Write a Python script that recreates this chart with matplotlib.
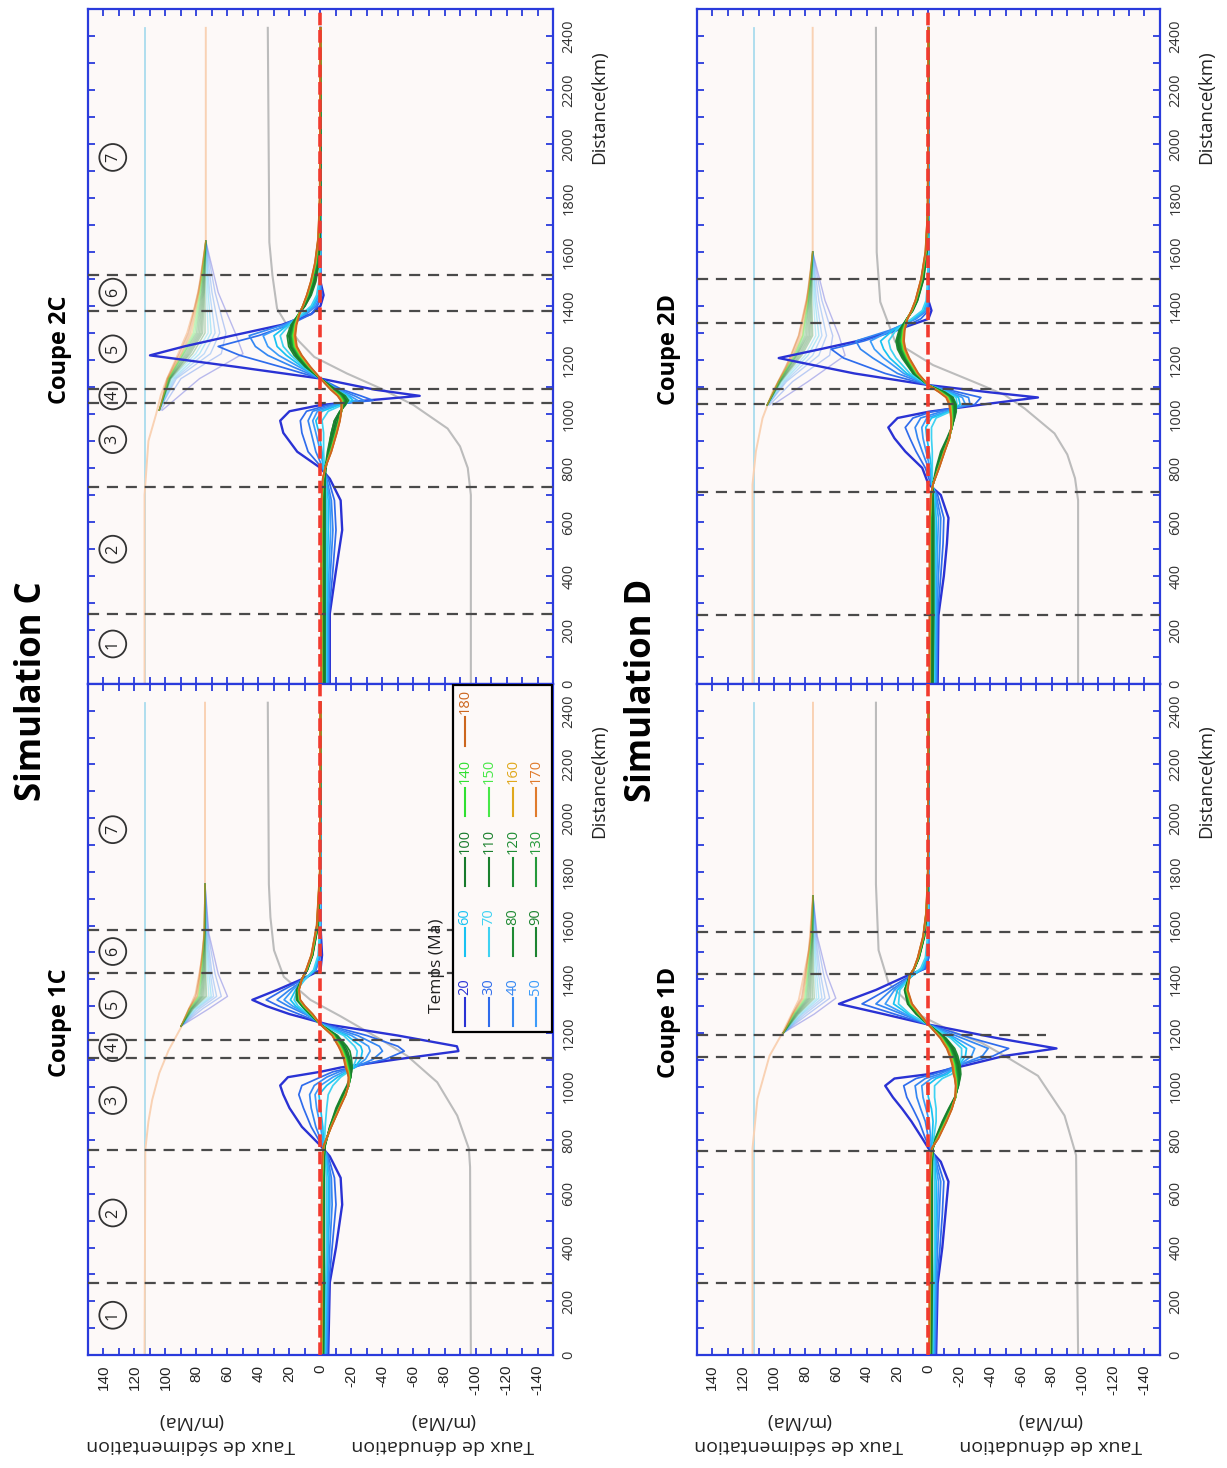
import matplotlib.pyplot as plt
from matplotlib.patches import Rectangle

plt.rcParams.update({
    "font.family": ["Open Sans", "DejaVu Sans"],
    "axes.linewidth": 1.6,
})

BLUE = '#2a3bdc'
BG = '#fdf9f8'

# time steps (Ma) and their colours
times = [20, 30, 40, 50, 60, 70, 80, 90, 100, 110, 120, 130, 140, 150, 160, 170, 180]
time_colors = ['#2a32d4', '#2f6cec', '#3487f2', '#3c9cfa', '#18c2f2', '#3fd2f2',
               '#1f8a33', '#1c8330', '#177a2b', '#1a802d', '#1e8c33', '#25993a',
               '#30e030', '#48e848', '#e0a81c', '#e07b2c', '#cc661e']

rate_ticks = [140, 120, 100, 80, 60, 40, 20, 0, -20, -40, -60, -80, -100, -120, -140]
dist_ticks = [0, 200, 400, 600, 800, 1000, 1200, 1400, 1600, 1800, 2000, 2200, 2400]

blue_d = [0, 2430]
blue_r = [113, 113]

# ---------------- Coupe 2C ----------------
dist_2C = [0, 260, 420, 570, 680, 760, 800, 860, 930, 975, 1010, 1033, 1050, 1067, 1090,
           1131, 1175, 1217, 1250, 1290, 1330, 1370, 1400, 1440, 1490, 1560, 1650, 1800, 2430]
rate_2C = [
    [-6, -6, -10, -14, -13, -6, 0, 15, 24, 26, 20, 0, -30, -64, -35, 0, 55, 110, 88, 57, 25, 6, 0, -2, 0, 0, 0, 0, 0],
    [-5.5, -5.5, -8, -10, -9, -5, -1, 8, 12, 13, 9, -5, -34, -26, -14, 0, 26, 52, 66, 40, 20, 6, 2, -1, 0, 0, 0, 0, 0],
    [-5, -5, -6.5, -8, -7, -4, -1.5, 3, 6, 8, 5, -8, -28, -22, -12, 0, 18, 34, 42, 46, 24, 9, 3, 0, 0, 0, 0, 0, 0],
    [-4.5, -4.5, -5.5, -6.5, -6, -3.5, -2, 0, 3, 5, 2, -10, -24, -19, -11, 0, 14, 27, 34, 37, 22, 10, 4, 1, 0, 0, 0, 0, 0],
    [-4, -4, -4.5, -5, -5, -3, -2, -1, 1, 3, -1, -12, -21, -18, -10, 0, 12, 22, 28, 30, 21, 11, 5, 1.5, 0.5, 0, 0, 0, 0],
    [-3.5, -3.5, -4, -4, -4, -3, -2.5, -2, -2, -1, -5, -14, -19, -17, -10, 0, 11, 19, 24, 26, 20, 12, 6, 2.5, 1, 0.3, 0, 0, 0],
    [-3, -3, -3, -3, -3, -3, -3, -4.5, -7, -9, -12.5, -16, -18, -16, -10, 0, 10, 17, 20.5, 21.5, 19, 14, 10, 6, 3, 1, 0.3, 0, 0],
    [-2.5, -2.5, -2.5, -2.5, -2.5, -3, -3.5, -5, -7, -9, -12.5, -16, -17, -15, -9.5, 0, 9.5, 16, 19.5, 20.5, 18.5, 14, 10, 6.5, 3.5, 1.2, 0.4, 0, 0],
    [-2, -2, -2, -2, -2, -2.5, -3.5, -5.5, -8, -10, -13, -15.5, -16.5, -14.5, -9, 0, 9, 15.5, 19, 20, 18, 14, 10.5, 7, 4, 1.5, 0.5, 0.1, 0],
    [-1.5, -1.5, -1.5, -1.5, -1.5, -2, -3, -5.5, -8.5, -11, -13.5, -15, -16, -14, -8.5, 0, 8.5, 15, 18.5, 19.5, 17.5, 14, 10.5, 7.5, 4.5, 2, 0.7, 0.1, 0],
    [-1.2, -1.2, -1.2, -1.2, -1.3, -2, -3, -6, -9, -11.5, -13.5, -14.5, -15.5, -13.5, -8, 0, 8, 14.5, 18, 19, 17, 14, 11, 8, 5, 2.3, 0.9, 0.2, 0],
    [-1, -1, -1, -1, -1.2, -2, -3, -6, -9.5, -12, -13.5, -14.5, -15, -13, -7.8, 0, 7.8, 14, 17.5, 18.5, 17, 14, 11, 8, 5.3, 2.6, 1, 0.3, 0],
    [-0.8, -0.8, -0.8, -0.8, -1, -1.8, -3, -6.5, -10, -12, -13.5, -14, -14.5, -12.5, -7.5, 0, 7.5, 13.5, 17, 18, 16.5, 14, 11.3, 8.3, 5.6, 2.9, 1.2, 0.3, 0],
    [-0.7, -0.7, -0.7, -0.7, -0.9, -1.7, -3, -6.5, -10, -12.2, -13.5, -14, -14, -12, -7.2, 0, 7.2, 13, 16.5, 17.5, 16.3, 14, 11.3, 8.5, 5.8, 3.1, 1.3, 0.4, 0],
    [-0.6, -0.6, -0.6, -0.6, -0.8, -1.6, -3, -6.8, -10.3, -12.3, -13.5, -13.8, -13.6, -11.6, -7, 0, 7, 12.7, 16, 17, 16, 13.8, 11.4, 8.7, 6, 3.3, 1.4, 0.4, 0],
    [-0.5, -0.5, -0.5, -0.5, -0.7, -1.5, -3, -7, -10.5, -12.5, -13.5, -13.6, -13.3, -11.2, -6.8, 0, 6.8, 12.3, 15.6, 16.6, 15.7, 13.6, 11.4, 8.8, 6.2, 3.5, 1.5, 0.5, 0],
    [-0.5, -0.5, -0.5, -0.5, -0.6, -1.4, -3, -7, -10.6, -12.6, -13.4, -13.4, -13, -11, -6.5, 0, 6.5, 12, 15.2, 16.2, 15.4, 13.5, 11.4, 8.9, 6.3, 3.6, 1.6, 0.5, 0],
]
fan_d_2C = [1014, 1131, 1223, 1300, 1450, 1640]
fan_2C = [
    [102, 78, 50, 55, 66, 74], [103, 90, 64, 61, 68, 74], [104, 93, 71, 65, 70, 74],
    [104, 94, 75, 68, 71.5, 74], [104, 95, 78, 70.5, 72.5, 74], [104, 96, 80.5, 72.5, 73.5, 74],
    [104, 96.5, 82.5, 74.5, 74.5, 74], [104, 97, 84, 76, 75, 74], [104, 97, 85, 77, 75.5, 74],
    [104, 97.5, 86, 78, 76, 74], [104, 97.5, 87, 79, 76.5, 74], [104, 98, 88, 80, 77, 74],
    [104, 98, 88.5, 81, 77.5, 74], [104, 98, 89, 82, 78, 74], [104, 98.5, 89.5, 83, 78.3, 74],
    [104, 98.5, 90, 84, 78.6, 74], [104, 99, 91, 85, 79, 74],
]
peach_d_2C = [0, 700, 900, 1000, 1070, 1130, 1220, 1300, 1400, 1500, 1640, 2430]
peach_2C = [113.5, 113.5, 111, 106, 103, 99, 92, 86, 81, 77, 74, 74]
gray_d_2C = [0, 700, 800, 880, 946, 1033, 1094, 1150, 1211, 1270, 1328, 1390, 1513, 1636, 2430]
gray_2C = [-97, -97, -95, -90, -82, -60, -39, -17, 4, 14, 21.5, 28, 31, 33, 34]
bounds_2C = [260, 729, 1040, 1094, 1381, 1513]
ends_2C = [1, 1, 1, 1, 1, 1]
zones_2C = [148, 499, 905, 1067, 1241, 1451, 1950]

# ---------------- Coupe 1C ----------------
dist_1C = [0, 270, 400, 560, 660, 740, 780, 850, 920, 970, 1004, 1035, 1055, 1071, 1102,
           1132, 1150, 1190, 1231, 1270, 1300, 1323, 1360, 1400, 1434, 1490, 1600, 1800, 2430]
rate_1C = [
    [-5, -6, -10, -14, -13, -6, 0, 12, 20, 24, 26, 21, 0, -13, -50, -89, -88, -50, -5, 20, 35, 44, 28, 12, 0, -1, 0, 0, 0],
    [-4.5, -5.5, -7.5, -10, -9, -5, -1, 6, 11, 14, 12, 0, -8, -20, -42, -54, -50, -30, -3, 14, 27, 35, 24, 11, 3, 0, 0, 0, 0],
    [-4, -5, -6, -7.5, -7, -4.5, -1.5, 3, 6, 7, 4, -4, -12, -22, -34, -40, -38, -24, -2, 10, 21, 28, 20, 10, 3, 0.5, 0, 0, 0],
    [-3.5, -4.5, -5, -6, -6, -4, -2, 0, 2.5, 3.5, 0, -8, -15, -22, -29, -32, -31, -20, -1, 9, 18, 23.5, 18, 10, 3.5, 1, 0, 0, 0],
    [-3, -4, -4.5, -5, -5, -3.5, -2, -1.5, 0, 1, -4, -11, -17, -22, -26, -27, -26, -17, -0.5, 8, 16, 19.4, 16, 10, 4, 1.2, 0.3, 0, 0],
    [-2.5, -3.5, -4, -4, -4, -3, -2.5, -3, -4, -5, -8, -13, -18, -21, -23, -23.7, -22, -15, -0.5, 7.5, 14.5, 17, 15, 10, 4.5, 1.5, 0.4, 0, 0],
    [-2, -2.5, -2.5, -2.5, -2.5, -2.5, -3, -6, -10, -14, -17, -19, -20, -20.5, -20, -19, -17, -11, 0, 7, 12, 15.5, 15.5, 12, 8.5, 5, 1.5, 0.2, 0],
    [-1.8, -2.2, -2.2, -2.2, -2.2, -2.4, -3, -6, -10.5, -14.5, -17.5, -19.5, -20, -20, -19, -17.5, -16, -10.5, 0, 6.8, 11.8, 14.8, 15, 12, 8.5, 5.1, 1.6, 0.2, 0],
    [-1.6, -2, -2, -2, -2, -2.2, -2.8, -6.2, -11, -15, -18, -19.5, -19.5, -19.5, -18.3, -16.5, -15, -10, 0, 6.6, 11.6, 14.5, 14.8, 12, 8.6, 5.2, 1.7, 0.3, 0],
    [-1.4, -1.8, -1.8, -1.8, -1.8, -2, -2.6, -6.4, -11.3, -15.3, -18.2, -19.4, -19.2, -19, -17.8, -16, -14.5, -9.6, 0, 6.4, 11.4, 14.3, 14.6, 12, 8.7, 5.3, 1.8, 0.3, 0],
    [-1.2, -1.5, -1.5, -1.5, -1.6, -1.9, -2.5, -6.5, -11.6, -15.6, -18.3, -19.2, -19, -18.6, -17.4, -15.5, -14, -9.2, 0, 6.2, 11.2, 14.1, 14.5, 12, 8.8, 5.4, 1.9, 0.3, 0],
    [-1, -1.3, -1.3, -1.3, -1.4, -1.8, -2.4, -6.6, -11.8, -15.8, -18.3, -19, -18.7, -18.2, -17, -15, -13.5, -8.8, 0, 6, 11, 13.9, 14.3, 12, 8.9, 5.5, 2, 0.3, 0],
    [-0.8, -1.1, -1.1, -1.1, -1.2, -1.7, -2.3, -6.7, -12, -16, -18.3, -18.8, -18.4, -17.8, -16.6, -14.6, -13, -8.5, 0, 5.8, 10.8, 13.7, 14.2, 12, 9, 5.6, 2.1, 0.3, 0],
    [-0.7, -1, -1, -1, -1.1, -1.6, -2.2, -6.8, -12.1, -16.1, -18.2, -18.6, -18.1, -17.4, -16.2, -14.2, -12.6, -8.2, 0, 5.6, 10.6, 13.5, 14.1, 12, 9.1, 5.7, 2.2, 0.4, 0],
    [-0.6, -0.9, -0.9, -0.9, -1, -1.5, -2.1, -6.9, -12.2, -16.2, -18.1, -18.4, -17.8, -17, -15.8, -13.8, -12.2, -8, 0, 5.4, 10.4, 13.3, 14, 12, 9.2, 5.8, 2.3, 0.4, 0],
    [-0.5, -0.8, -0.8, -0.8, -0.9, -1.4, -2, -7, -12.3, -16.3, -18, -18.2, -17.5, -16.6, -15.4, -13.4, -11.8, -7.8, 0, 5.2, 10.2, 13.1, 13.9, 12, 9.3, 5.9, 2.4, 0.4, 0],
    [-0.5, -0.7, -0.7, -0.7, -0.8, -1.3, -2, -7, -12.4, -16.4, -17.9, -18, -17.2, -16.2, -15, -13, -11.5, -7.5, 0, 5, 10, 13, 13.8, 12, 9.4, 6, 2.5, 0.5, 0],
]
fan_d_1C = [1225, 1290, 1336, 1420, 1570, 1754]
fan_1C = [
    [90, 72, 60, 66, 72, 74.5], [90, 76, 64, 68, 72.5, 74.5], [90, 78, 67, 70, 73, 74.5],
    [90, 79.5, 69, 71, 73.5, 74.5], [90, 80.5, 70.5, 72, 73.8, 74.5], [90, 81.5, 72, 73, 74, 74.5],
    [90, 82, 73.5, 74, 74.2, 74.5], [90, 82.5, 74.5, 74.5, 74.4, 74.5], [90, 83, 75.5, 75, 74.6, 74.5],
    [90, 83.3, 76.3, 75.5, 74.7, 74.5], [90, 83.6, 77, 76, 74.8, 74.5], [90, 84, 77.7, 76.4, 74.9, 74.5],
    [90, 84.3, 78.3, 76.8, 75, 74.5], [90, 84.5, 78.8, 77.1, 75, 74.5], [90, 84.7, 79.3, 77.4, 75, 74.5],
    [90, 84.9, 79.7, 77.7, 75, 74.5], [90, 85, 80.5, 78, 75, 74.5],
]
peach_d_1C = [0, 765, 870, 950, 1050, 1135, 1220, 1345, 1505, 1700, 2430]
peach_1C = [113.5, 113, 111, 108.6, 104, 98, 90, 80.6, 75.5, 74.5, 74.5]
gray_d_1C = [0, 700, 769, 892, 1016, 1114, 1176, 1262, 1323, 1409, 1508, 1631, 1754, 2430]
gray_1C = [-97, -96.5, -95.7, -88.2, -75.3, -56, -38.7, -12.9, 6.5, 23.7, 30, 32.3, 33.3, 34]
bounds_1C = [268, 765, 1108, 1175, 1424, 1582]
ends_1C = [1, 1, 1, 0.735, 1, 1]
zones_1C = [148, 529, 948, 1145, 1305, 1503, 1957]

# ---------------- Coupe 2D ----------------
dist_2D = [0, 254, 400, 520, 615, 700, 740, 800, 861, 910, 950, 985, 1008, 1035, 1061,
           1080, 1107, 1150, 1207, 1240, 1270, 1310, 1352, 1383, 1420, 1500, 1600, 1750, 2430]
rate_2D = [
    [-6, -6.5, -10, -12, -13, -8, 0, 4, 15, 22, 26, 20, 0, -35, -71, -40, 0, 48, 97, 70, 46, 21, 0, -2, 0, 0, 0, 0, 0],
    [-5.5, -6, -8, -9.5, -10, -6, -1.5, 2, 8, 12, 15, 10, -2, -30, -34, -20, 0, 28, 55, 63, 42, 20, 5, 0, 0, 0, 0, 0, 0],
    [-5, -5.5, -6.5, -7.5, -8, -5, -2, 0, 4, 7, 8.6, 5, -8, -27, -26, -16, 0, 20, 36, 44, 47, 25, 8, 1, 0, 0, 0, 0, 0],
    [-4.5, -5, -5.5, -6, -6.5, -4.5, -2.5, -1, 1.5, 3.5, 4.3, 1, -11, -24, -22, -14, 0, 16, 29, 35, 37.6, 24, 9, 2, 0.5, 0, 0, 0, 0],
    [-4, -4.5, -4.5, -5, -5, -4, -2.5, -2, -0.5, 1, 1.7, -2, -13, -20.6, -19.5, -13, 0, 14, 25, 29, 31, 23, 10, 3, 1, 0.2, 0, 0, 0],
    [-3.5, -4, -4, -4, -4, -3.5, -2.5, -2.5, -2.5, -2, -2, -5, -14, -18.5, -18, -12, 0, 12, 21, 24.5, 25.8, 21, 11, 4, 1.5, 0.4, 0, 0, 0],
    [-3, -3.5, -3.5, -3.5, -3.5, -3, -3, -5, -8, -12, -15, -17, -18, -18, -16, -11, 0, 10, 17, 20, 21, 19, 14, 10, 7, 3, 1, 0.2, 0],
    [-2.5, -3, -3, -3, -3, -2.8, -3, -5.5, -8.5, -12.5, -15.2, -16.8, -17.5, -17.5, -15.5, -10.5, 0, 9.6, 16.4, 19.4, 20.4, 18.6, 14, 10.2, 7.2, 3.2, 1.1, 0.2, 0],
    [-2, -2.5, -2.5, -2.5, -2.5, -2.6, -3, -5.8, -9, -12.8, -15.3, -16.6, -17, -17, -15, -10, 0, 9.2, 15.8, 18.8, 19.8, 18.2, 14, 10.3, 7.4, 3.4, 1.2, 0.3, 0],
    [-1.7, -2, -2, -2, -2.1, -2.4, -3, -6, -9.3, -13, -15.3, -16.3, -16.6, -16.5, -14.5, -9.6, 0, 8.8, 15.3, 18.2, 19.2, 17.8, 14, 10.4, 7.6, 3.6, 1.3, 0.3, 0],
    [-1.4, -1.7, -1.7, -1.7, -1.8, -2.2, -3, -6.2, -9.6, -13.2, -15.3, -16, -16.2, -16, -14, -9.2, 0, 8.4, 14.8, 17.6, 18.6, 17.4, 14, 10.5, 7.8, 3.8, 1.4, 0.3, 0],
    [-1.2, -1.4, -1.4, -1.4, -1.5, -2, -3, -6.4, -9.9, -13.4, -15.2, -15.8, -15.8, -15.5, -13.5, -8.8, 0, 8, 14.3, 17, 18, 17, 14, 10.6, 8, 4, 1.5, 0.4, 0],
    [-1, -1.2, -1.2, -1.2, -1.3, -1.9, -3, -6.6, -10.1, -13.5, -15.1, -15.5, -15.4, -15, -13, -8.4, 0, 7.7, 13.9, 16.5, 17.5, 16.6, 13.9, 10.7, 8.1, 4.2, 1.6, 0.4, 0],
    [-0.9, -1, -1, -1, -1.2, -1.8, -3, -6.7, -10.3, -13.6, -15, -15.3, -15, -14.6, -12.6, -8, 0, 7.4, 13.5, 16, 17, 16.2, 13.8, 10.8, 8.2, 4.4, 1.7, 0.4, 0],
    [-0.8, -0.9, -0.9, -0.9, -1.1, -1.7, -3, -6.8, -10.4, -13.6, -14.9, -15, -14.7, -14.2, -12.2, -7.7, 0, 7.1, 13.1, 15.6, 16.6, 15.9, 13.7, 10.9, 8.3, 4.6, 1.8, 0.5, 0],
    [-0.7, -0.8, -0.8, -0.8, -1, -1.6, -3, -6.9, -10.5, -13.6, -14.8, -14.8, -14.4, -13.8, -11.8, -7.4, 0, 6.8, 12.7, 15.2, 16.2, 15.6, 13.6, 11, 8.4, 4.7, 1.9, 0.5, 0],
    [-0.6, -0.7, -0.7, -0.7, -0.9, -1.5, -3, -7, -10.6, -13.6, -14.7, -14.6, -14.1, -13.4, -11.4, -7, 0, 6.5, 12.3, 14.8, 15.8, 15.3, 13.5, 11, 8.5, 4.8, 2, 0.5, 0],
]
fan_d_2D = [1033, 1120, 1217, 1290, 1420, 1600]
fan_2D = [
    [101, 78, 54, 58, 67, 75], [103, 88, 64, 62, 69, 75], [104, 92, 71, 66, 71, 75],
    [104, 93, 75, 69, 72.5, 75], [104.5, 94, 78, 71, 73.5, 75], [104.5, 95, 80, 73, 74.5, 75],
    [104.5, 95.5, 82, 75, 75.5, 75], [104.5, 96, 83, 76, 76, 75], [104.5, 96, 84, 77, 76.5, 75],
    [104.5, 96.5, 85, 78, 77, 75], [104.5, 96.5, 85.5, 79, 77.5, 75], [104.5, 97, 86, 80, 77.8, 75],
    [104.5, 97, 86.5, 81, 78, 75], [104.5, 97, 87, 81.5, 78.3, 75], [104.5, 97.2, 87.5, 82, 78.5, 75],
    [104.5, 97.3, 88, 83, 78.8, 75], [104.5, 97.5, 89, 84, 79, 75],
]
peach_d_2D = [0, 738, 861, 984, 1082, 1168, 1291, 1476, 1600, 2430]
peach_2D = [114, 114, 111.8, 107.5, 101, 92.5, 84, 77, 75, 75]
gray_d_2D = [0, 680, 762, 850, 928, 1020, 1070, 1107, 1181, 1267, 1415, 1599, 2430]
gray_2D = [-97, -97, -95, -90, -81.7, -62.4, -49.5, -34.4, -3, 21.5, 31.2, 33.5, 34]
bounds_2D = [254, 710, 1035, 1092, 1338, 1500]
ends_2D = [1, 1, 1, 1, 1, 1]

# ---------------- Coupe 1D ----------------
dist_1D = [0, 267, 400, 523, 646, 720, 770, 807, 870, 917, 960, 1003, 1030, 1046, 1080,
           1114, 1142, 1180, 1231, 1270, 1308, 1360, 1415, 1440, 1480, 1560, 1650, 1800, 2430]
rate_1D = [
    [-5, -6, -9, -11, -13, -8, 0, 4, 11, 17, 23, 28, 22, 0, -25, -49, -83, -45, 0, 29, 58, 34, 13, 2, 0, 0, 0, 0, 0],
    [-4.5, -5.5, -7.5, -9, -10, -6, -1, 2, 6, 10, 14, 16, 8, -3, -20, -42, -52, -28, 0, 22, 43, 27, 11, 2, 0, 0, 0, 0, 0],
    [-4, -5, -6, -7, -8, -5, -1.5, 0, 2, 5, 7.5, 8.6, 2, -7, -20, -35, -38.7, -22, 0, 17, 34, 24, 10, 3, 0.5, 0, 0, 0, 0],
    [-3.5, -4.5, -5, -6, -6.5, -4.5, -2, -1.5, -0.5, 1.5, 3.5, 4.3, -2, -10, -20, -28, -30, -18, 0, 15, 28, 22, 10, 3.5, 1, 0.2, 0, 0, 0],
    [-3, -4, -4.5, -5, -5, -4, -2.5, -2.5, -3, -2, 0, 1, -5, -12, -20, -24, -24.7, -16, 0, 13, 22.6, 20, 10, 4, 1.3, 0.3, 0, 0, 0],
    [-2.5, -3.5, -4, -4, -4, -3.5, -3, -3.5, -5, -5, -4, -4, -9, -15, -20, -21.5, -21.5, -14.5, 0, 12, 19.4, 18.5, 10.5, 5, 2, 0.5, 0.1, 0, 0],
    [-2, -2.5, -2.5, -2.5, -2.5, -2.5, -3, -4.5, -9, -13, -17, -19.5, -20.5, -21, -20.5, -19, -17, -11.5, 0, 8, 13.5, 15.5, 12, 9, 6, 2.5, 1, 0.2, 0],
    [-1.8, -2.2, -2.2, -2.2, -2.2, -2.4, -3, -4.8, -9.4, -13.4, -17.2, -19.4, -20.2, -20.4, -19.8, -18.2, -16.2, -11, 0, 7.7, 13.2, 15.3, 12, 9, 6.1, 2.6, 1, 0.2, 0],
    [-1.6, -2, -2, -2, -2, -2.2, -2.9, -5, -9.8, -13.8, -17.4, -19.2, -19.8, -19.8, -19.1, -17.5, -15.5, -10.5, 0, 7.4, 12.9, 15, 12, 9, 6.2, 2.7, 1.1, 0.3, 0],
    [-1.4, -1.8, -1.8, -1.8, -1.8, -2, -2.8, -5.2, -10.1, -14.1, -17.5, -19, -19.4, -19.3, -18.5, -16.9, -14.9, -10.1, 0, 7.1, 12.6, 14.8, 12, 9.1, 6.3, 2.8, 1.1, 0.3, 0],
    [-1.2, -1.5, -1.5, -1.5, -1.6, -1.9, -2.7, -5.4, -10.4, -14.4, -17.6, -18.8, -19, -18.8, -18, -16.3, -14.4, -9.7, 0, 6.8, 12.3, 14.6, 12, 9.1, 6.4, 2.9, 1.2, 0.3, 0],
    [-1, -1.3, -1.3, -1.3, -1.4, -1.8, -2.6, -5.6, -10.7, -14.6, -17.6, -18.6, -18.6, -18.3, -17.5, -15.8, -13.9, -9.3, 0, 6.5, 12, 14.4, 12, 9.2, 6.5, 3, 1.2, 0.3, 0],
    [-0.8, -1.1, -1.1, -1.1, -1.2, -1.7, -2.5, -5.8, -11, -14.8, -17.6, -18.4, -18.2, -17.8, -17, -15.3, -13.4, -8.9, 0, 6.2, 11.7, 14.2, 12, 9.2, 6.6, 3.1, 1.3, 0.3, 0],
    [-0.7, -1, -1, -1, -1.1, -1.6, -2.4, -6, -11.2, -15, -17.6, -18.2, -17.9, -17.4, -16.6, -14.9, -13, -8.6, 0, 6, 11.4, 14, 12, 9.3, 6.7, 3.2, 1.3, 0.4, 0],
    [-0.6, -0.9, -0.9, -0.9, -1, -1.5, -2.3, -6.2, -11.4, -15.1, -17.5, -18, -17.6, -17, -16.2, -14.5, -12.6, -8.3, 0, 5.8, 11.1, 13.8, 12, 9.3, 6.8, 3.3, 1.4, 0.4, 0],
    [-0.5, -0.8, -0.8, -0.8, -0.9, -1.4, -2.2, -6.4, -11.6, -15.2, -17.4, -17.8, -17.3, -16.6, -15.8, -14.1, -12.2, -8, 0, 5.6, 10.8, 13.6, 12, 9.4, 6.9, 3.4, 1.4, 0.4, 0],
    [-0.5, -0.7, -0.7, -0.7, -0.8, -1.3, -2.1, -6.5, -11.8, -15.3, -17.3, -17.6, -17, -16.2, -15.4, -13.7, -11.8, -7.7, 0, 5.4, 10.5, 13.4, 12, 9.4, 7, 3.5, 1.5, 0.4, 0],
]
fan_d_1D = [1200, 1270, 1329, 1420, 1560, 1710]
fan_1D = [
    [94, 74, 60, 66, 72, 74.8], [94, 78, 64, 68, 72.5, 74.8], [94, 80, 67, 70, 73, 74.8],
    [94, 81.5, 69, 71.2, 73.5, 74.8], [94, 82.5, 71, 72.4, 74, 74.8], [94, 83.5, 72.5, 73.5, 74.3, 74.8],
    [94, 84.2, 74, 74.5, 74.6, 74.8], [94, 84.8, 75.2, 75.3, 74.9, 74.8], [94, 85.3, 76.3, 76, 75.1, 74.8],
    [94, 85.8, 77.2, 76.6, 75.3, 74.8], [94, 86.2, 78, 77.2, 75.5, 74.8], [94, 86.6, 78.8, 77.7, 75.7, 74.8],
    [94, 87, 79.5, 78.2, 75.9, 74.8], [94, 87.3, 80.2, 78.6, 76, 74.8], [94, 87.6, 80.9, 79, 76.2, 74.8],
    [94, 87.9, 81.6, 79.4, 76.3, 74.8], [94, 88.2, 82.3, 79.8, 76.5, 74.8],
]
peach_d_1D = [0, 769, 954, 1114, 1200, 1323, 1508, 1717, 2430]
peach_1D = [114, 114, 110.8, 103, 94.6, 84, 77.4, 74.8, 74.8]
gray_d_1D = [0, 744, 892, 1040, 1114, 1163, 1200, 1262, 1385, 1508, 1754, 2430]
gray_1D = [-97, -95.7, -88.2, -71, -49.5, -34.4, -17.2, 4.3, 25.8, 32.3, 34, 34]
bounds_1D = [267, 761, 1110, 1193, 1419, 1576]
ends_1D = [1, 1, 1, 0.755, 1, 1]

zone_names = ['1', '2', '3', '4', '5', '6', '7']


def draw_panel(ax, dist, rates, fan_d, fan, peach_d, peach_r, gray_d, gray_r,
               bounds, ends, title, zones=None, bottom=False):
    ax.set_facecolor(BG)
    ax.plot(blue_r, blue_d, color='#a9dcee', lw=1.3, zorder=1)
    ax.plot(peach_r, peach_d, color='#f9d2b4', lw=1.4, zorder=1)
    ax.plot(gray_r, gray_d, color='#bcbcbc', lw=1.5, zorder=1)
    for row, c in zip(fan, time_colors):
        ax.plot(row, fan_d, color=c, lw=1.0, alpha=0.32, zorder=1.5)
    for i, (row, c) in enumerate(zip(rates, time_colors)):
        ax.plot(row, dist, color=c, lw=1.7 if i == 0 else 1.25, zorder=2 + i * 0.01)
    for d, e in zip(bounds, ends):
        ax.axhline(d, xmax=e, color='#4a4a4a', lw=1.6, ls=(0, (5, 3.5)), zorder=4)
    ax.axvline(0, color='#f23a2e', lw=2.6, ls=(0, (3.5, 1.3)), zorder=6)

    if zones is not None:
        for d, n in zip(zones, zone_names):
            ax.text(134, d, n, rotation=90, ha='center', va='center', fontsize=11.5,
                    color='#222222', zorder=7,
                    bbox=dict(boxstyle='circle,pad=0.34', fc='none', ec='#333333', lw=1.3))

    ax.set_xlim(150, -150)
    ax.set_ylim(0, 2500)
    ax.set_xticks(rate_ticks, labels=[str(t) for t in rate_ticks])
    ax.set_xticks(range(-130, 150, 20), minor=True)
    ax.set_yticks(dist_ticks, labels=[str(t) for t in dist_ticks])
    ax.set_yticks(range(100, 2500, 200), minor=True)
    ax.tick_params(axis='both', which='both', direction='in', length=5, width=1.3,
                   color=BLUE, top=True, bottom=True, left=True, right=True)
    ax.tick_params(axis='x', labelbottom=bottom, labelsize=11, pad=7, labelcolor='#222222')
    ax.tick_params(axis='y', labelleft=False, labelright=True, labelsize=10.5, pad=6,
                   labelcolor='#333333')
    for lbl in ax.get_xticklabels():
        lbl.set_fontfamily('Liberation Sans')
        lbl.set_rotation(90)
    for lbl in ax.get_yticklabels():
        lbl.set_rotation(90)
        lbl.set_va('center')
        lbl.set_ha('left')
    for sp in ax.spines.values():
        sp.set_color(BLUE)

    ax.text(-0.06, 0.495, title, rotation=90, transform=ax.transAxes, fontsize=17,
            fontweight='bold', ha='center', va='center')
    ax.text(1.1, 0.855, 'Distance(km)', rotation=90, transform=ax.transAxes,
            fontsize=13.5, ha='center', va='center', color='#222222')
    if bottom:
        ax.text(0.22, -0.116, 'Taux de sédimentation\n(m/Ma)', rotation=180,
                transform=ax.transAxes, fontsize=14, ha='center', va='center',
                linespacing=1.45, color='#222222')
        ax.text(0.763, -0.116, 'Taux de dénudation\n(m/Ma)', rotation=180,
                transform=ax.transAxes, fontsize=14, ha='center', va='center',
                linespacing=1.45, color='#222222')


def draw_legend(ax):
    box = Rectangle((0.785, 0.481), 0.213, 0.518, transform=ax.transAxes,
                    fc=BG, ec='black', lw=1.6, zorder=8)
    ax.add_patch(box)
    col_x = [0.811, 0.862, 0.914, 0.963]
    for k, (t, c) in enumerate(zip(times, time_colors)):
        x = col_x[k % 4]
        y0 = 0.49 + 0.1045 * (k // 4)
        ax.plot([x, x], [y0, y0 + 0.042], color=c, lw=1.5, transform=ax.transAxes,
                zorder=9, clip_on=False)
        ax.text(x, y0 + 0.047, str(t), rotation=90, ha='center', va='bottom',
                color=c, fontsize=10.5, transform=ax.transAxes, zorder=9)
    ax.text(0.75, 0.58, 'Temps (Ma)', rotation=90, ha='center', va='center',
            fontsize=12.5, transform=ax.transAxes, zorder=9, color='#222222')


fig = plt.figure(figsize=(12.27, 14.68), dpi=100)
ax2C = fig.add_axes([0.0717, 0.5341, 0.379, 0.4598])
ax1C = fig.add_axes([0.0717, 0.0770, 0.379, 0.4571])
ax2D = fig.add_axes([0.568, 0.5341, 0.3773, 0.4598])
ax1D = fig.add_axes([0.568, 0.0770, 0.3773, 0.4571])

draw_panel(ax2C, dist_2C, rate_2C, fan_d_2C, fan_2C, peach_d_2C, peach_2C,
           gray_d_2C, gray_2C, bounds_2C, ends_2C, 'Coupe 2C', zones=zones_2C)
draw_panel(ax1C, dist_1C, rate_1C, fan_d_1C, fan_1C, peach_d_1C, peach_1C,
           gray_d_1C, gray_1C, bounds_1C, ends_1C, 'Coupe 1C', zones=zones_1C, bottom=True)
draw_panel(ax2D, dist_2D, rate_2D, fan_d_2D, fan_2D, peach_d_2D, peach_2D,
           gray_d_2D, gray_2D, bounds_2D, ends_2D, 'Coupe 2D')
draw_panel(ax1D, dist_1D, rate_1D, fan_d_1D, fan_1D, peach_d_1D, peach_1D,
           gray_d_1D, gray_1D, bounds_1D, ends_1D, 'Coupe 1D', bottom=True)
draw_legend(ax1C)

fig.text(0.026, 0.529, 'Simulation C', rotation=90, fontsize=25, fontweight='bold',
         ha='center', va='center')
fig.text(0.523, 0.530, 'Simulation D', rotation=90, fontsize=25, fontweight='bold',
         ha='center', va='center')

fig.savefig('out.png', dpi=100)
